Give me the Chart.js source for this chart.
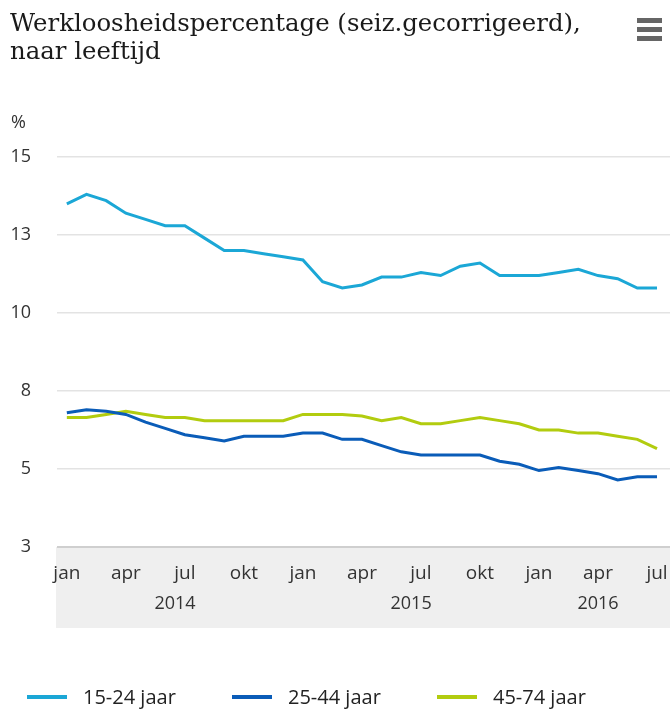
<!DOCTYPE html>
<html>
    <head>
        <title>Werkloosheidspercentage naar leeftijd</title>
        <script src="https://cdn.jsdelivr.net/npm/chart.js@4/dist/chart.umd.min.js"></script>
        <style>
            html, body { margin: 0; padding: 0; background: #fff; }
            #wrap { width: 670px; height: 711px; }
        </style>
    </head>
    <body>
        <div id="wrap"><canvas id="chart1" width="670" height="711"></canvas></div>

        <script>
            // monthly figures, jan 2014 .. jul 2016
            const monthNames = ['jan', 'feb', 'mrt', 'apr', 'mei', 'jun', 'jul', 'aug', 'sep', 'okt', 'nov', 'dec']
            const years = ['2014', '2015', '2016']
            const yearStart = [0, 12, 24]
            const yearEnd = [11, 23, 30]

            const age1524 = [13.5, 13.8, 13.6, 13.2, 13.0, 12.8, 12.8, 12.4, 12.0, 12.0, 11.9, 11.8, 11.7, 11.0, 10.8, 10.9,
                11.15, 11.15, 11.3, 11.2, 11.5, 11.6, 11.2, 11.2, 11.2, 11.3, 11.4, 11.2, 11.1, 10.8, 10.8]
            const age2544 = [6.8, 6.9, 6.85, 6.75, 6.5, 6.3, 6.1, 6.0, 5.9, 6.05, 6.05, 6.05, 6.15, 6.15, 5.95, 5.95,
                5.75, 5.55, 5.45, 5.45, 5.45, 5.45, 5.25, 5.15, 4.95, 5.05, 4.95, 4.85, 4.65, 4.75, 4.75]
            const age4574 = [6.65, 6.65, 6.75, 6.85, 6.75, 6.65, 6.65, 6.55, 6.55, 6.55, 6.55, 6.55, 6.75, 6.75, 6.75, 6.7,
                6.55, 6.65, 6.45, 6.45, 6.55, 6.65, 6.55, 6.45, 6.25, 6.25, 6.15, 6.15, 6.05, 5.95, 5.65]

            const seriesNames = ['15-24 jaar', '25-44 jaar', '45-74 jaar']
            const seriesColors = ['#1ba7d6', '#0a5cb8', '#b2cc0f']
            const yTicks = [2.5, 5, 7.5, 10, 12.5, 15]

            const sansFont = '"Open Sans", sans-serif'
            const toPoints = arr => arr.map((v, i) => ({ x: i, y: v }))

            // size the serif title so the first line is as wide as in the original
            function titleFont(ctx, text, width) {
                ctx.font = '24px "DejaVu Serif", serif'
                const size = 24 * width / ctx.measureText(text).width
                return size.toFixed(1) + 'px "DejaVu Serif", serif'
            }

            // title, menu icon, % label, grey band and legend
            const decor = {
                id: 'decor',
                beforeDraw(chart) {
                    const { ctx, chartArea } = chart
                    const x2 = chart.scales.x2
                    ctx.save()
                    ctx.fillStyle = '#efefef'
                    ctx.fillRect(chartArea.left - 1, chartArea.bottom, chartArea.right - chartArea.left + 1, x2.bottom - chartArea.bottom)
                    ctx.restore()
                },
                afterDraw(chart) {
                    const ctx = chart.ctx
                    const line1 = 'Werkloosheidspercentage (seiz.gecorrigeerd),'
                    ctx.save()
                    ctx.fillStyle = '#1a1a1a'
                    ctx.textBaseline = 'alphabetic'
                    ctx.textAlign = 'left'
                    ctx.font = titleFont(ctx, line1, 570)
                    ctx.fillText(line1, 10, 31)
                    ctx.fillText('naar leeftijd', 10, 59)

                    ctx.fillStyle = '#666'
                    for (let k = 0; k < 3; k++) ctx.fillRect(637, 18 + 9 * k, 25, 5)

                    ctx.fillStyle = '#333'
                    ctx.font = '18px ' + sansFont
                    ctx.textBaseline = 'middle'
                    ctx.fillText('%', 11, 123)

                    // legend
                    ctx.font = '20px ' + sansFont
                    chart.data.datasets.forEach((ds, i) => {
                        const x0 = 27 + 205 * i
                        ctx.strokeStyle = ds.borderColor
                        ctx.lineWidth = 4
                        ctx.beginPath()
                        ctx.moveTo(x0, 697)
                        ctx.lineTo(x0 + 40, 697)
                        ctx.stroke()
                        ctx.fillStyle = '#222'
                        ctx.fillText(ds.label, x0 + 56, 698)
                    })
                    ctx.restore()
                },
            }

            const noSidePad = s => {
                s.paddingLeft = 0
                s.paddingRight = 0
            }

            const chart = new Chart(document.getElementById('chart1'), {
                type: 'line',
                data: {
                    datasets: [age1524, age2544, age4574].map((arr, i) => ({
                        label: seriesNames[i],
                        data: toPoints(arr),
                        borderColor: seriesColors[i],
                        backgroundColor: seriesColors[i],
                        borderWidth: 3,
                        pointRadius: 0,
                        tension: 0,
                    })),
                },
                options: {
                    responsive: false,
                    animation: false,
                    layout: { padding: { top: 157, left: 0, right: 0, bottom: 83 } },
                    plugins: {
                        legend: { display: false },
                        title: { display: false },
                        tooltip: { enabled: false },
                    },
                    scales: {
                        x: {
                            type: 'linear',
                            position: 'bottom',
                            min: -0.5,
                            max: 30.66,
                            afterBuildTicks: s => {
                                s.ticks = age1524.map((v, i) => i).filter(i => i % 3 === 0).map(i => ({ value: i }))
                            },
                            afterFit: s => {
                                s.height = 40
                                noSidePad(s)
                            },
                            grid: { display: false, drawTicks: false },
                            border: { display: false },
                            ticks: {
                                autoSkip: false,
                                maxRotation: 0,
                                padding: 15,
                                color: '#333',
                                font: { family: sansFont, size: 19 },
                                callback: v => monthNames[v % 12],
                            },
                        },
                        x2: {
                            type: 'linear',
                            position: 'bottom',
                            min: -0.5,
                            max: 30.66,
                            afterBuildTicks: s => {
                                s.ticks = years.map((y, i) => ({ value: (yearStart[i] + yearEnd[i]) / 2 }))
                            },
                            afterFit: s => {
                                s.height = 41
                                noSidePad(s)
                            },
                            grid: { display: false, drawTicks: false },
                            border: { display: false },
                            ticks: {
                                autoSkip: false,
                                maxRotation: 0,
                                padding: 6,
                                color: '#333',
                                font: { family: sansFont, size: 18 },
                                callback: (v, i) => years[i],
                            },
                        },
                        y: {
                            min: 2.5,
                            max: 15,
                            afterBuildTicks: s => { s.ticks = yTicks.map(v => ({ value: v })) },
                            afterFit: s => {
                                s.width = 57
                                s.paddingTop = 0
                                s.paddingBottom = 0
                            },
                            grid: {
                                drawTicks: false,
                                color: c => (c.tick && c.tick.value === 2.5 ? '#cfcfcf' : '#e3e3e3'),
                                lineWidth: c => (c.tick && c.tick.value === 2.5 ? 2 : 1.5),
                            },
                            border: { display: false },
                            ticks: {
                                padding: 26,
                                color: '#333',
                                font: { family: sansFont, size: 18 },
                                callback: v => String(Math.round(v)),
                            },
                        },
                    },
                },
                plugins: [decor],
            })
        </script>
    </body>
</html>
